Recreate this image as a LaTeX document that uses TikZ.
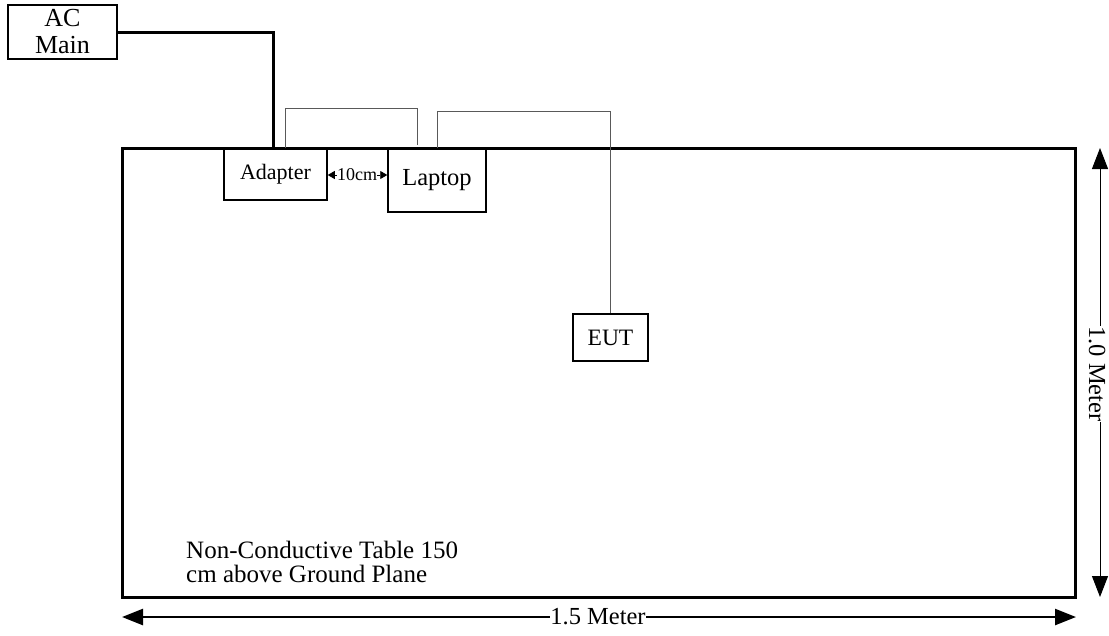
\documentclass[tikz,border=0pt]{standalone}
\usepackage{fontspec}
\setmainfont{Liberation Serif}
\usetikzlibrary{arrows.meta}
\begin{document}
\begin{tikzpicture}[x=1pt,y=-1pt,
  box/.style={draw,line width=1.5pt,inner sep=0pt,align=center},
  thick cable/.style={line width=3pt},
  thin cable/.style={line width=1pt,draw=black!65},
  dim/.style={{Triangle[length=21pt,width=16pt]}-{Triangle[length=21pt,width=16pt]}},
  small tip/.style={line width=0.8pt,-{Triangle[length=7pt,width=8pt]}},
  lbl/.style={fill=white,inner sep=0.5pt,font=\fontsize{24.5}{26}\selectfont}]
\useasboundingbox (0,0) rectangle (1109,635);
\node[draw,line width=3pt,minimum width=953pt,minimum height=449pt,inner sep=0pt] (table) at (598.5,372.5) {};
\node[box,minimum width=109pt,minimum height=54pt,font=\fontsize{26}{27}\selectfont] (ac) at (62.5,32) {AC\\Main};
\node[box,minimum width=103pt,minimum height=51pt,font=\fontsize{22}{24}\selectfont] (adapter) at (275.5,174.5) {Adapter};
\node[box,minimum width=98pt,minimum height=63pt,font=\fontsize{24.5}{26}\selectfont] (laptop) at (437,180.5) {Laptop};
\node[box,minimum width=75pt,minimum height=47pt,font=\fontsize{23.5}{25}\selectfont] (eut) at (610.5,337.5) {EUT};
\node[inner sep=0pt,font=\fontsize{18}{20}\selectfont] (gap) at (357,175) {10cm};
\draw[small tip] (gap.west) -- (gap.west -| adapter.east);
\draw[small tip] (gap.east) -- (gap.east -| laptop.west);
\draw[thick cable] (ac.east) -| ([xshift=50pt]adapter.north west);
\draw[thin cable] ([xshift=62pt]adapter.north west) -- ++(0,-40) -| ([xshift=30pt,yshift=3pt]laptop.north west);
\draw[thin cable] ([xshift=50pt]laptop.north west) -- ++(0,-37) -| (eut.north);
\node[anchor=base west,align=left,inner sep=0pt,font=\fontsize{25}{24}\selectfont] (txt) at (186,582) {Non-Conductive Table 150\\cm above Ground Plane};
\coordinate (bl) at (122,617);
\coordinate (br) at (1076,617);
\coordinate (rt) at (1100,148);
\coordinate (rb) at (1100,597);
\draw[dim,line width=2.5pt] (bl) -- (br);
\node[lbl] (w) at (598,617) {1.5 Meter};
\draw[dim,line width=1pt] (rt) -- (rb);
\node[lbl,rotate=-90] (h) at (1097,374) {1.0 Meter};
\end{tikzpicture}
\end{document}
